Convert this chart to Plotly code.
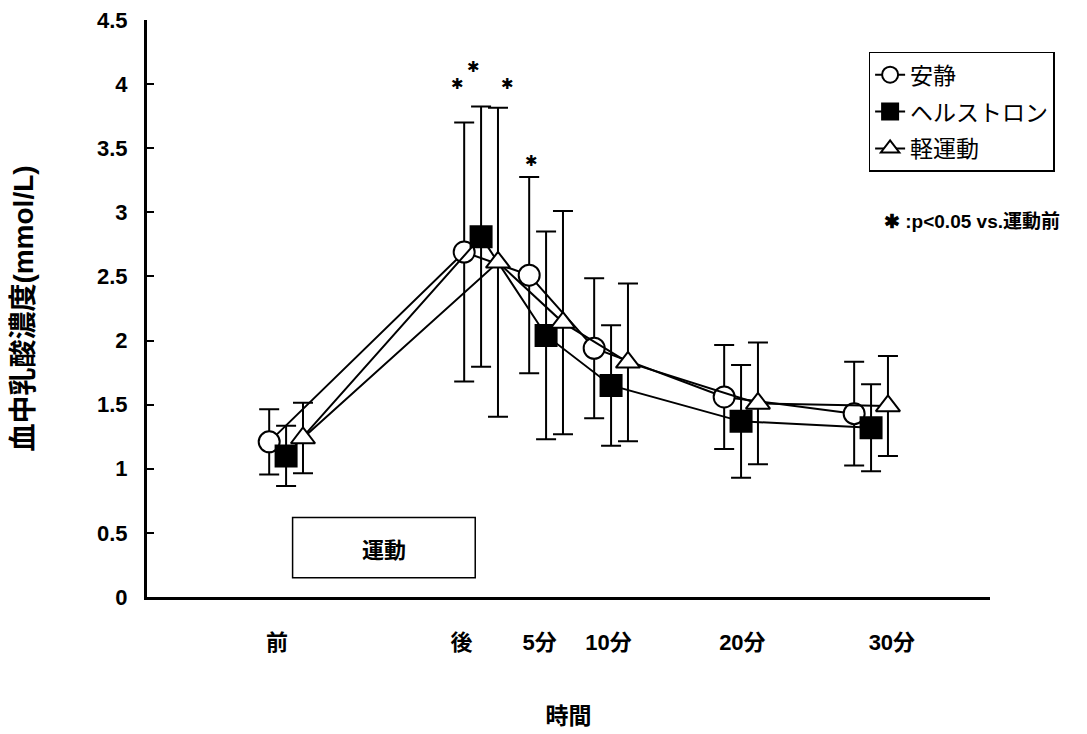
import plotly.graph_objects as go

# ---- data ----
times = [-15, 0, 5, 10, 20, 30]          # minutes relative to end of exercise
tick_labels = ["前", "後", "5分", "10分", "20分", "30分"]
tick_pos = [-15.7, -1.5, 4.5, 9.8, 20.1, 31.6]

rest_mean = [1.21, 2.69, 2.51, 1.94, 1.56, 1.43]
rest_sd = [0.255, 1.01, 0.765, 0.545, 0.405, 0.405]

hel_mean = [1.10, 2.81, 2.04, 1.65, 1.37, 1.32]
hel_sd = [0.235, 1.015, 0.81, 0.47, 0.44, 0.34]

light_mean = [1.24, 2.61, 2.14, 1.83, 1.51, 1.49]
light_sd = [0.275, 1.205, 0.87, 0.615, 0.475, 0.39]

series_names = ["安静", "ヘルストロン", "軽運動"]
offsets = [-1.3, 0.0, 1.3]

# significance marks (x in minutes, y in mmol/L)
star_x = [-1.85, -0.55, 2.05, 3.9]
star_y = [4.0, 4.13, 4.0, 3.40]

FONT = "Liberation Sans, Noto Sans CJK JP, sans-serif"

fig = go.Figure()

styles = [
    dict(symbol="circle", color="white"),
    dict(symbol="square", color="black"),
    dict(symbol="triangle-up", color="white"),
]
for name, mean, sd, off, st in zip(series_names,
                                   [rest_mean, hel_mean, light_mean],
                                   [rest_sd, hel_sd, light_sd],
                                   offsets, styles):
    fig.add_trace(go.Scatter(
        x=[t + off for t in times], y=mean, name=name, legendgroup=name,
        mode="lines+markers",
        line=dict(color="black", width=2),
        marker=dict(symbol=st["symbol"], size=21, color=st["color"],
                    line=dict(color="black", width=2)),
        error_y=dict(type="data", array=sd, visible=True,
                     color="black", thickness=2, width=10),
    ))

for sx, sy in zip(star_x, star_y):
    fig.add_annotation(x=sx, y=sy, text="✱", showarrow=False,
                       font=dict(family="DejaVu Sans", size=15, color="black"))

# exercise box
fig.add_shape(type="rect", x0=-14.5, x1=-0.45, y0=0.15, y1=0.62,
              line=dict(color="black", width=1.5), fillcolor="white", layer="below")
fig.add_annotation(x=-7.5, y=0.385, text="<b>運動</b>", showarrow=False,
                   font=dict(family="Noto Sans CJK JP", size=22, color="black"))

fig.add_annotation(xref="paper", yref="paper", x=0.872, y=0.672, xanchor="left",
                   text="<b>✱ :p&lt;0.05 vs.運動前</b>", showarrow=False,
                   font=dict(family=FONT, size=19, color="black"))

fig.update_layout(
    width=1087, height=734,
    margin=dict(l=139, r=105, t=12, b=145, autoexpand=False),
    paper_bgcolor="white", plot_bgcolor="white",
    showlegend=True,
    legend=dict(x=0.856, y=0.945, xanchor="left", yanchor="top",
                bordercolor="black", borderwidth=1.5, bgcolor="white",
                font=dict(family=FONT, size=23, color="black"),
                tracegroupgap=4, itemsizing="trace"),
    font=dict(family=FONT, color="black"),
)

fig.update_xaxes(
    range=[-25.7, 39.15], showgrid=False, zeroline=False, automargin=False,
    showline=True, linecolor="black", linewidth=3,
    tickmode="array", tickvals=tick_pos, ticktext=[f"<b>{t}</b>" for t in tick_labels],
    ticks="", ticklabelstandoff=24, ticklabeloverflow="allow",
    tickfont=dict(family=FONT, size=22, color="black"),
    title=dict(text="<b>時間</b>", font=dict(family=FONT, size=23, color="black"), standoff=54),
)
fig.update_yaxes(
    range=[0, 4.5], showgrid=False, zeroline=False, automargin=False,
    showline=True, linecolor="black", linewidth=3,
    tickvals=[0, 0.5, 1, 1.5, 2, 2.5, 3, 3.5, 4, 4.5],
    ticktext=["<b>0</b>", "<b>0.5</b>", "<b>1</b>", "<b>1.5</b>", "<b>2</b>", "<b>2.5</b>",
              "<b>3</b>", "<b>3.5</b>", "<b>4</b>", "<b>4.5</b>"],
    ticks="inside", ticklen=7, tickwidth=2, tickcolor="black",
    ticklabelstandoff=12, ticklabeloverflow="allow",
    tickfont=dict(family=FONT, size=22, color="black"),
    title=dict(text="<b>血中乳酸濃度(mmol/L)</b>", font=dict(family=FONT, size=28, color="black"),
               standoff=57),
)

fig.write_html("out.html")
